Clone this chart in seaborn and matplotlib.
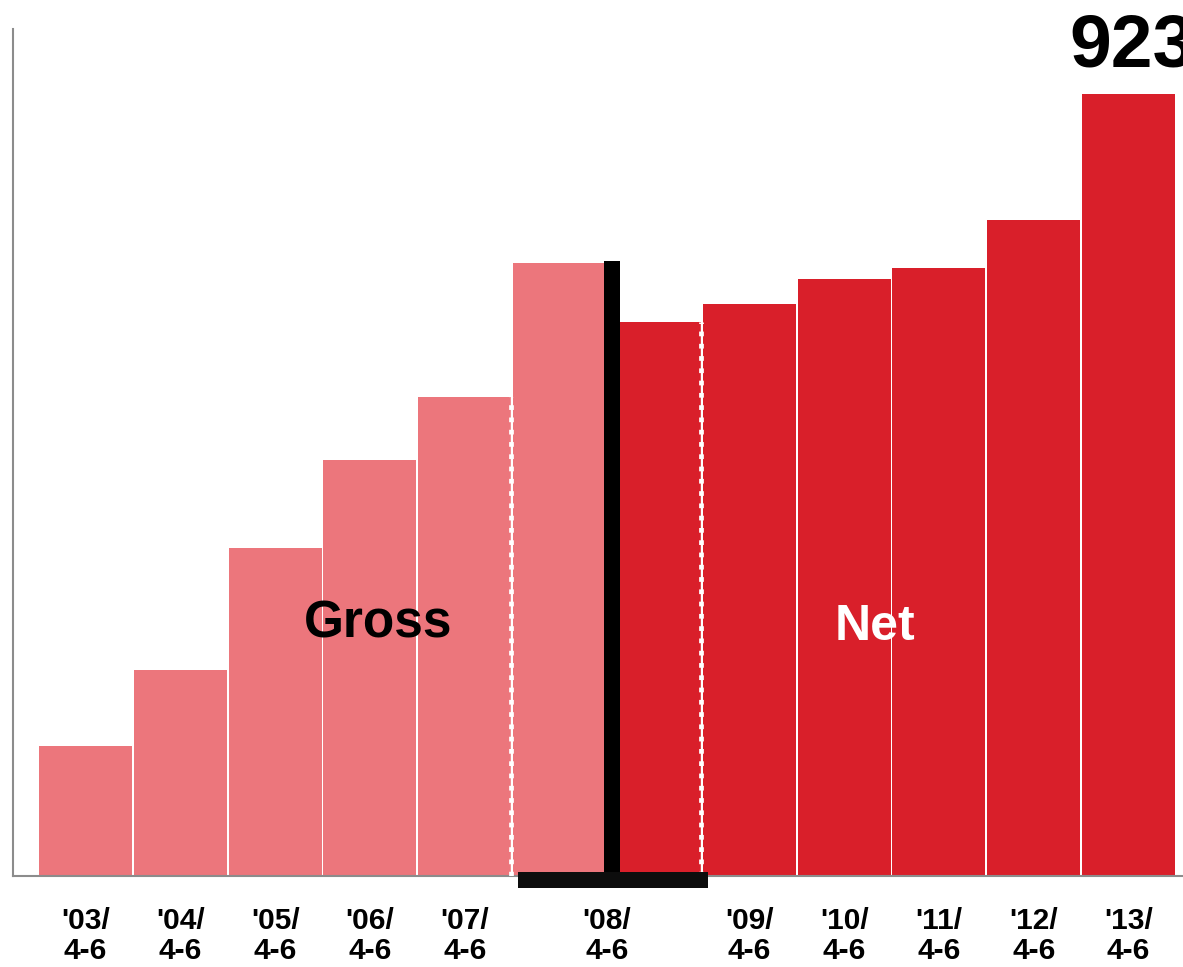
import matplotlib
matplotlib.use("Agg")
import matplotlib.pyplot as plt
import seaborn as sns
import pandas as pd
from matplotlib.patches import Rectangle

# ---- data ----
bar_ids = ["'03", "'04", "'05", "'06", "'07", "'08 G", "'08 N", "'09", "'10", "'11", "'12", "'13"]
values = [153.5, 243, 387, 491, 565.5, 724, 654, 675, 704.5, 717.5, 774, 923]
kinds = ["Gross"] * 6 + ["Net"] * 6
tick_labels = ["'03/\n4-6", "'04/\n4-6", "'05/\n4-6", "'06/\n4-6", "'07/\n4-6", "'08/\n4-6",
               "'09/\n4-6", "'10/\n4-6", "'11/\n4-6", "'12/\n4-6", "'13/\n4-6"]
tick_pos = [0, 1, 2, 3, 4, 5.5, 7, 8, 9, 10, 11]
highlight_value = "923"

PINK = "#EC767C"
RED = "#D91F2A"

sns.set_theme(style="white")
plt.rcParams["font.family"] = ["Liberation Sans", "DejaVu Sans"]

fig = plt.figure(figsize=(11.83, 9.67), dpi=100)
ax = fig.add_axes([13 / 1183, 91 / 967, 1 - 13 / 1183, 847 / 967])

df = pd.DataFrame({"bar": bar_ids, "value": values, "kind": kinds})
sns.barplot(data=df, x="bar", y="value", hue="kind", order=bar_ids,
            palette={"Gross": PINK, "Net": RED}, dodge=False, width=0.98,
            saturation=1, linewidth=0, legend=False, ax=ax)

ax.set_xlim(-0.7635, 11.574)
ax.set_ylim(0, 1000)

# dotted white separators
ax.vlines(4.49, 0, values[4], colors="white", linewidth=1.0, zorder=4)
ax.vlines(6.49, 0, values[6], colors="white", linewidth=1.0, zorder=4)
ax.vlines(4.49, 0, values[4], colors="white", linewidth=3.4, linestyles=(0, (1.0, 1.6)), zorder=4)
ax.vlines(6.49, 0, values[6], colors="white", linewidth=3.4, linestyles=(0, (1.0, 1.6)), zorder=4)

# black divider (vertical) and base bar (horizontal)
ax.add_patch(Rectangle((5.471, 0), 0.169, values[5] + 2.5, facecolor="black",
                       edgecolor="none", zorder=5))
ax.add_patch(Rectangle((4.562, -14.2), 2.003, 18.9, facecolor="#0D0D0D",
                       edgecolor="none", zorder=6, clip_on=False))

# texts
ax.text(3.085, 281, "Gross", ha="center", va="baseline", fontsize=37,
        fontweight="bold", color="black", zorder=7)
ax.text(8.33, 278.6, "Net", ha="center", va="baseline", fontsize=36,
        fontweight="bold", color="white", zorder=7)
ax.text(11.04, 956, highlight_value, ha="center", va="baseline", fontsize=54,
        fontweight="bold", color="black", clip_on=False, zorder=7)

ax.set_xticks(tick_pos)
ax.set_xticklabels(tick_labels, fontsize=21.5, fontweight="bold", color="black",
                   linespacing=1.12)
ax.tick_params(axis="x", length=0, pad=22)
ax.set_yticks([])
ax.set_xlabel("")
ax.set_ylabel("")

for s in ["top", "right"]:
    ax.spines[s].set_visible(False)
for s in ["left", "bottom"]:
    ax.spines[s].set_color("#8C8C8C")
    ax.spines[s].set_linewidth(1.5)

fig.savefig("out.png", dpi=100)
